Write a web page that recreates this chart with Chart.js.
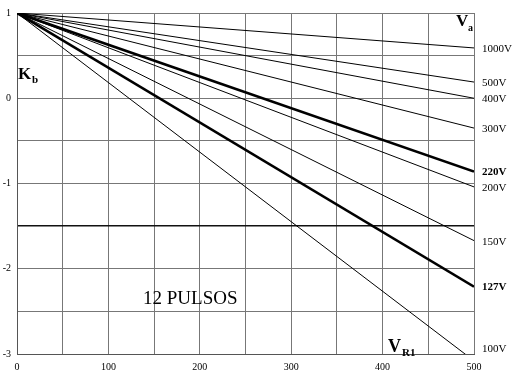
<!DOCTYPE html>
<html>
<head>
<meta charset="utf-8">
<script src="https://cdn.jsdelivr.net/npm/chart.js@4"></script>
<style>
  html, body { margin: 0; padding: 0; background: #fff; }
  #wrap { width: 515px; height: 371px; position: relative; }
</style>
</head>
<body>
<div id="wrap"><canvas id="kbChart"></canvas></div>
<script>
// Kb vs VR1, 12 pulsos, one line per Va
const vr1 = [0, 500];
const seriesNames = ['1000V', '500V', '400V', '300V', '220V', '200V', '150V', '127V', '100V'];
const kb1000 = [1, 0.59];
const kb500 = [1, 0.19];
const kb400 = [1, 0.0];
const kb300 = [1, -0.35];
const kb220 = [1, -0.86];
const kb200 = [1, -1.04];
const kb150 = [1, -1.67];
const kb127 = [1, -2.21];
const kb100 = [1, -3.08];
const boldSeries = ['220V', '127V'];
const xTicks = [0, 100, 200, 300, 400, 500];
const yTicks = [1, 0, -1, -2, -3];

const allSeries = [kb1000, kb500, kb400, kb300, kb220, kb200, kb150, kb127, kb100];
const SERIF = '"Liberation Serif", "DejaVu Serif", serif';

const datasets = seriesNames.map((name, i) => ({
    label: name,
    data: vr1.map((x, j) => ({ x: x, y: allSeries[i][j] })),
    borderColor: '#000',
    borderWidth: boldSeries.includes(name) ? 2.6 : 1,
    pointRadius: 0,
    tension: 0,
    fill: false
}));

// text around the plot: line names at the right, axis letters, title
const labelsPlugin = {
    id: 'labels',
    afterDraw(chart) {
        const { ctx, scales } = chart;
        const xs = scales.x, ys = scales.y;
        ctx.save();
        ctx.fillStyle = '#000';
        ctx.textBaseline = 'middle';
        ctx.textAlign = 'left';
        seriesNames.forEach((name, i) => {
            const last = allSeries[i][allSeries[i].length - 1];
            const v = Math.max(last, ys.min + 0.07);
            ctx.font = (boldSeries.includes(name) ? 'bold ' : '') + '11px ' + SERIF;
            ctx.fillText(name, xs.right + 8, ys.getPixelForValue(v) + 1);
        });

        // V_a
        ctx.textBaseline = 'alphabetic';
        ctx.font = 'bold 17px ' + SERIF;
        ctx.fillText('V', xs.right - 18, 26);
        ctx.font = 'bold 10px ' + SERIF;
        ctx.fillText('a', xs.right - 6, 31);

        // K_b
        ctx.font = 'bold 17px ' + SERIF;
        ctx.fillText('K', 18, 79);
        ctx.font = 'bold 11px ' + SERIF;
        ctx.fillText('b', 32, 83);

        // V_R1
        ctx.font = 'bold 18px ' + SERIF;
        ctx.fillText('V', 388, 352);
        ctx.font = 'bold 11px ' + SERIF;
        ctx.fillText('R1', 402, 356);

        ctx.font = '19px ' + SERIF;
        ctx.fillText('12 PULSOS', 143, 304);
        ctx.restore();
    }
};

new Chart(document.getElementById('kbChart'), {
    type: 'line',
    data: { datasets: datasets },
    options: {
        responsive: true,
        maintainAspectRatio: false,
        animation: false,
        layout: { padding: { top: 13, right: 41, left: 0, bottom: 0 } },
        plugins: { legend: { display: false }, tooltip: { enabled: false } },
        scales: {
            x: {
                type: 'linear',
                min: 0, max: 500,
                afterFit(s) { s.height = 17; },
                ticks: {
                    stepSize: 50,
                    autoSkip: false,
                    maxRotation: 0,
                    padding: 7,
                    color: '#000',
                    font: { family: SERIF, size: 10 },
                    callback: v => xTicks.includes(v) ? String(v) : ''
                },
                grid: { color: '#777', lineWidth: 1, drawTicks: false },
                border: { color: '#555', width: 1 }
            },
            y: {
                min: -3, max: 1,
                afterFit(s) { s.width = 17; },
                ticks: {
                    stepSize: 0.5,
                    autoSkip: false,
                    padding: 6,
                    color: '#000',
                    font: { family: SERIF, size: 10 },
                    callback: v => yTicks.includes(v) ? String(v) : ''
                },
                grid: {
                    drawTicks: false,
                    color: c => c.tick && c.tick.value === -1.5 ? '#111' : '#777',
                    lineWidth: c => c.tick && c.tick.value === -1.5 ? 1.5 : 1
                },
                border: { color: '#555', width: 1 }
            }
        }
    },
    plugins: [labelsPlugin]
});
</script>
</body>
</html>
